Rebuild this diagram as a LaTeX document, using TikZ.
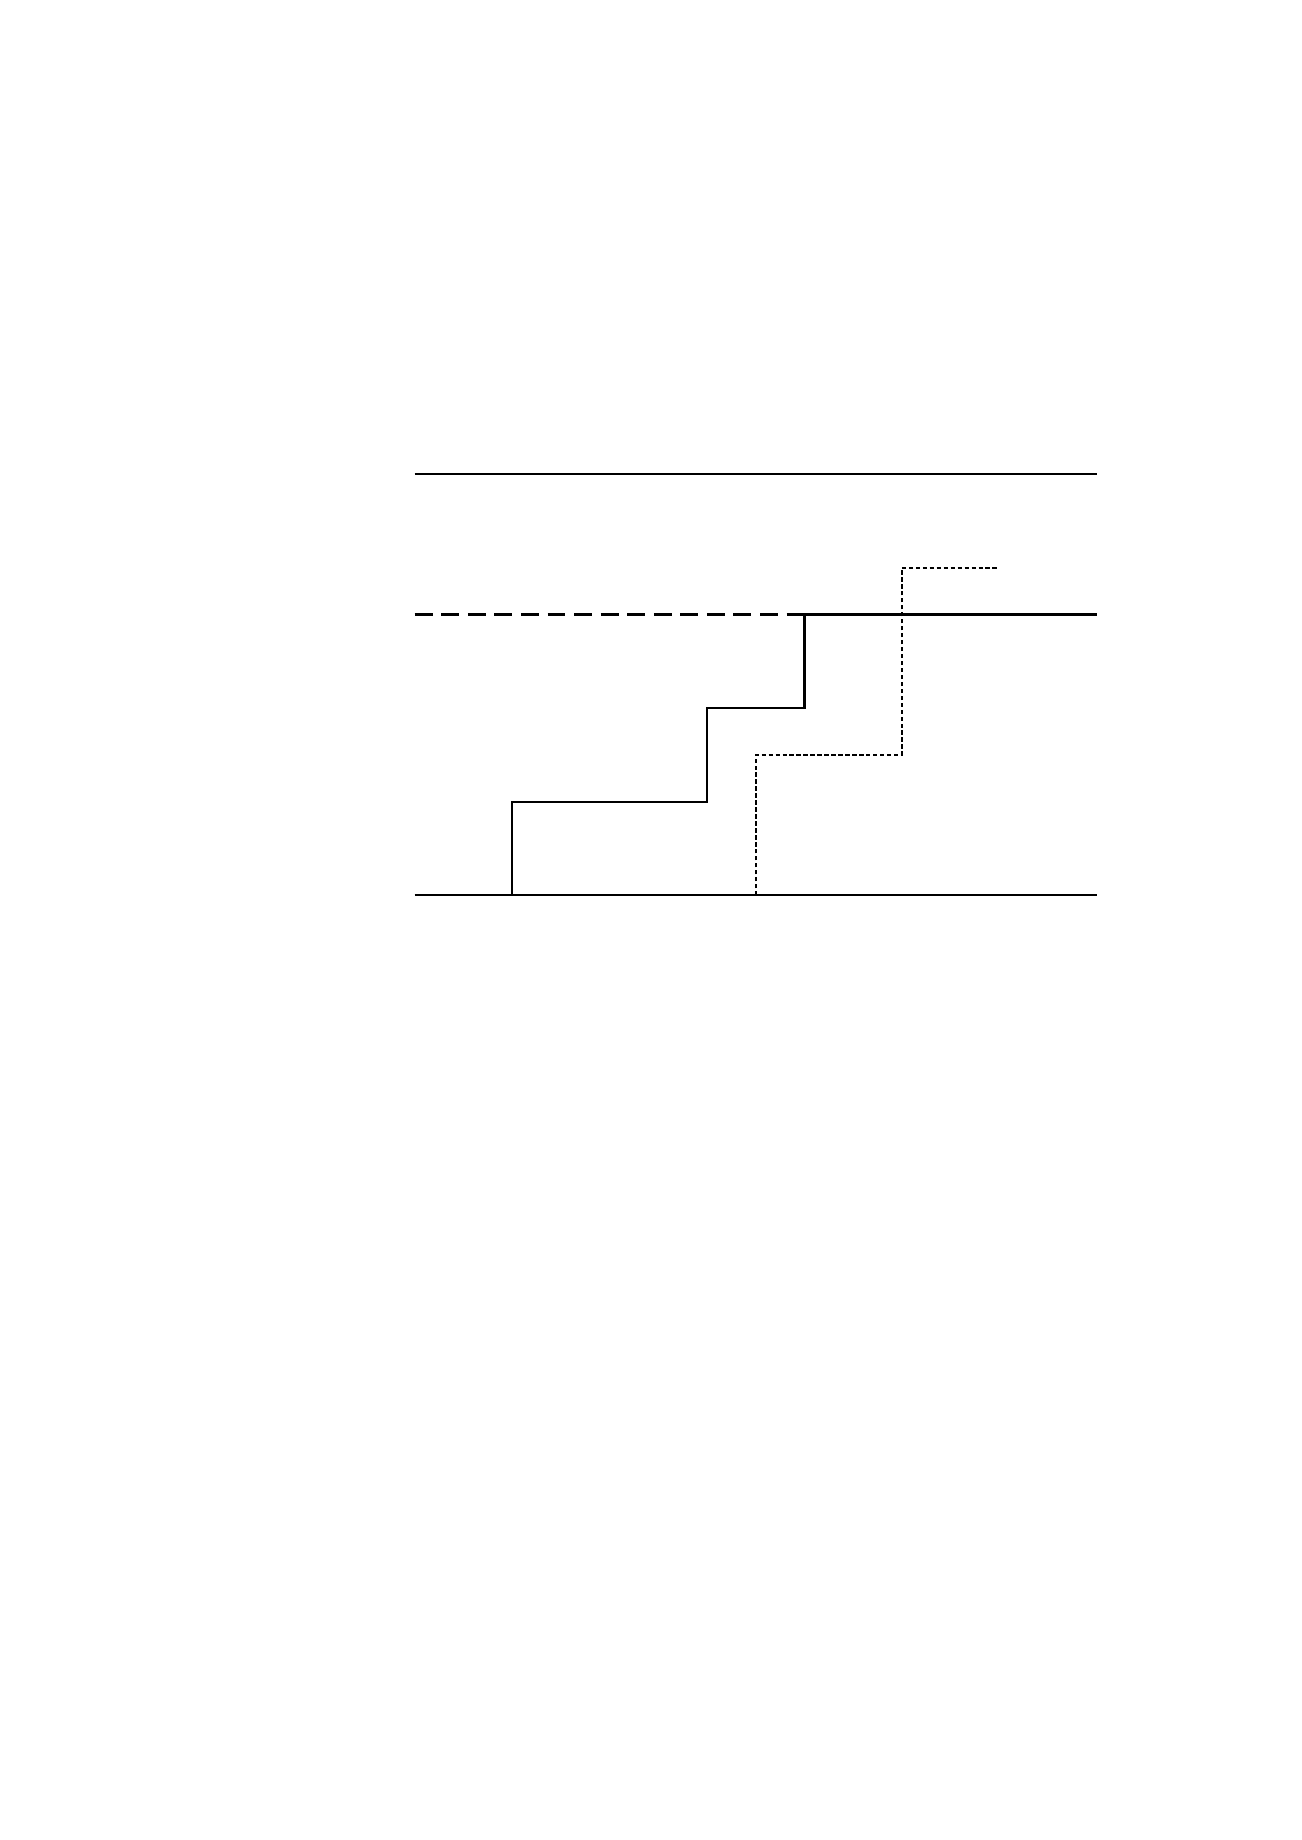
\documentclass[tikz,border=0pt]{standalone}
\begin{document}
\begin{tikzpicture}
    [
        x = 1.5726cm, y = 1.511cm,
        bound/.style = {line width = 1pt},
        target/.style = {line width = 1pt, dash pattern = on 8.2pt off 4pt},
        stair/.style = {line width = 1pt},
        delayed/.style = {line width = 0.85pt, dash pattern = on 2pt off 1.2pt}
    ]

        \useasboundingbox (-6.694cm,-15.249cm) rectangle (14.306cm,14.451cm);

        % levels and steps
        \coordinate (lo west) at (0,0);
        \coordinate (lo east) at (7,0);
        \coordinate (hi west) at (0,4.5);
        \coordinate (hi east) at (7,4.5);
        \coordinate (mid west) at (0,3);
        \coordinate (mid east) at (7,3);
        \coordinate (s1) at (1,0);
        \coordinate (s2) at (3,1);
        \coordinate (s3) at (4,2);
        \coordinate (top) at (4,3);
        \coordinate (d1) at (3.5,0);
        \coordinate (d2) at (5,1.5);
        \coordinate (d3) at (6,3.5);

        \draw[bound] (hi west) -- (hi east);
        \draw[bound] (lo west) -- (lo east);
        \draw[target] (mid west) -- (top);
        \draw[bound] (top) -- (mid east);

        \draw[stair] (s1) |- (s2) |- (s3) |- (top);
        \draw[delayed] (d1) |- (d2) |- (d3);
    \end{tikzpicture}
\end{document}
